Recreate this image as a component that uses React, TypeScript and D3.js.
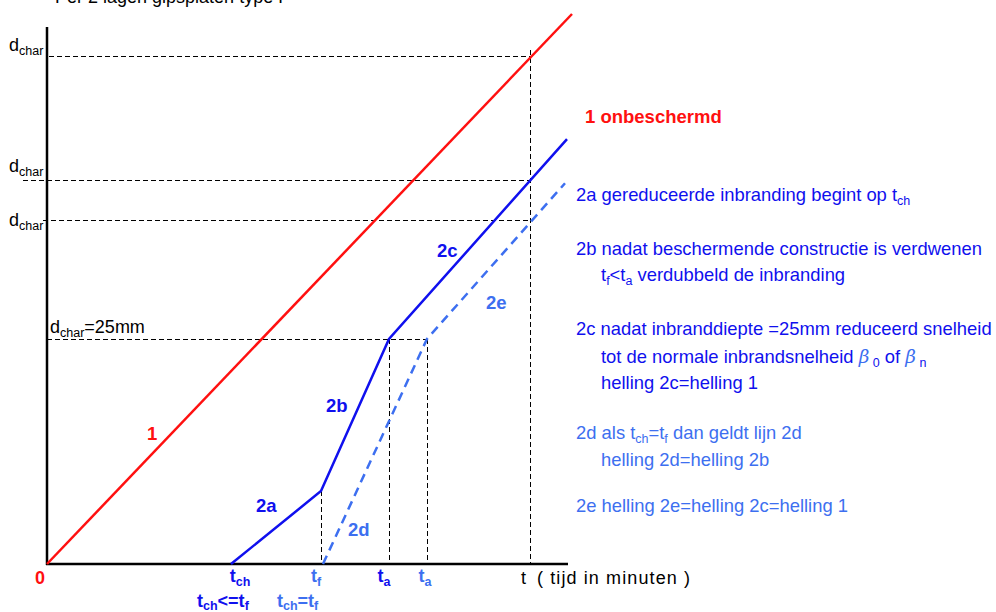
import React from "react";
import * as d3 from "d3";

// data in minutes (t) and mm (d)
const line1: [number, number][] = [[0, 0], [105, 61.1]];
const line2: [number, number][] = [[36.8, 0], [54.8, 8.1], [68.4, 25], [104, 47.2]];
const line2de: [number, number][] = [[55.2, 0], [76, 25], [103.6, 42.3]];
const tRef = 96.6;
const dLevels = [56.4, 42.7, 38.2];
const d25 = 25;
const tF = 54.8;
const dF = 8.1;
const tA = 68.4;
const tA2 = 76;

const W = 996, H = 612;
const x = d3.scaleLinear().domain([0, 105]).range([47, 572]);
const y = d3.scaleLinear().domain([0, 61.1]).range([564, 14]);

const BLUE = "#1010ee";
const LBLUE = "#3d6ff0";
const RED = "#ff1010";
const FONT = "'Liberation Sans', Arial, sans-serif";
const FS = 18;
const FR = 18.4;
const SS = 12.5;

const lineGen = d3.line<[number, number]>().x(d => x(d[0])).y(d => y(d[1]));
const px = (v: number) => Math.round(v) + 0.5;

function Sub({ x: xx, y: yy, base, sub, size = FS, fill = "#000", weight = "normal", anchor = "start", rest = "" }: any) {
  return (
    <text x={xx} y={yy} fontSize={size} fill={fill} fontWeight={weight} textAnchor={anchor} fontFamily={FONT}>
      {base}
      <tspan fontSize={SS} dy={4}>{sub}</tspan>
      {rest ? <tspan dy={-4}>{rest}</tspan> : null}
    </text>
  );
}

export default function App() {
  const dash = "5,3";
  return (
    <svg width={W} height={H} style={{ position: "absolute", left: 0, top: 0, background: "#fff" }} fontFamily={FONT}>
      {/* clipped titles */}
      <text x={55} y={3} fontSize={FS} fill="#000">Per 2 lagen gipsplaten type F</text>
      <text x={752} y={0} fontSize={FS} fill={RED} fontWeight="bold" opacity={0.5}>beschermd hout</text>

      {/* dashed reference lines */}
      <g stroke="#000" strokeWidth={1.1} strokeDasharray={dash} fill="none" shapeRendering="crispEdges">
        <line x1={49} x2={x(tRef)} y1={px(y(dLevels[0]))} y2={px(y(dLevels[0]))} />
        <line x1={23} x2={x(tRef)} y1={px(y(dLevels[1]))} y2={px(y(dLevels[1]))} />
        <line x1={43} x2={x(tRef)} y1={px(y(dLevels[2]))} y2={px(y(dLevels[2]))} />
        <line x1={47} x2={x(tA2)} y1={px(y(d25))} y2={px(y(d25))} />
        <line x1={px(x(tRef))} x2={px(x(tRef))} y1={y(dLevels[0]) - 6} y2={y(0)} />
        <line x1={px(x(tF))} x2={px(x(tF))} y1={y(dF)} y2={y(0)} />
        <line x1={px(x(tA))} x2={px(x(tA))} y1={y(d25)} y2={y(0)} />
        <line x1={px(x(tA2))} x2={px(x(tA2))} y1={y(d25)} y2={y(0)} />
      </g>

      {/* axes */}
      <line x1={47} x2={47} y1={27} y2={565} stroke="#000" strokeWidth={2.5} />
      <line x1={46} x2={568} y1={564} y2={564} stroke="#000" strokeWidth={2.5} />

      {/* series */}
      <path d={lineGen(line1) || ""} stroke={RED} strokeWidth={2.5} fill="none" />
      <path d={lineGen(line2) || ""} stroke={BLUE} strokeWidth={2.5} fill="none" />
      <path d={lineGen(line2de) || ""} stroke={LBLUE} strokeWidth={2.5} fill="none" strokeDasharray="9,6" />

      {/* y labels */}
      <Sub x={9} y={51} base="d" sub="char" />
      <Sub x={9} y={172} base="d" sub="char" />
      <Sub x={9} y={226} base="d" sub="char" />
      <Sub x={50} y={333} base="d" sub="char" rest="=25mm" />

      {/* line labels */}
      <g fontSize={18.5} fontWeight="bold">
        <text x={147} y={440} fill={RED}>1</text>
        <text x={585} y={123} fill={RED}>1 onbeschermd</text>
        <text x={256} y={512} fill={BLUE}>2a</text>
        <text x={326} y={412} fill={BLUE}>2b</text>
        <text x={437} y={257} fill={BLUE}>2c</text>
        <text x={348} y={536} fill={LBLUE}>2d</text>
        <text x={486} y={309} fill={LBLUE}>2e</text>
      </g>

      {/* x labels */}
      <text x={40} y={584} fontSize={FS} fontWeight="bold" fill={RED} textAnchor="middle">0</text>
      <Sub x={x(36.8) + 9} y={582} base="t" sub="ch" fill={BLUE} weight="bold" anchor="middle" />
      <Sub x={x(tF) - 5} y={582} base="t" sub="f" fill={LBLUE} weight="bold" anchor="middle" />
      <Sub x={x(tA) - 5} y={582} base="t" sub="a" fill={BLUE} weight="bold" anchor="middle" />
      <Sub x={x(tA2) - 2} y={582} base="t" sub="a" fill={LBLUE} weight="bold" anchor="middle" />
      <text x={521} y={584} fontSize={FS} fill="#000">t</text>
      <text x={537} y={584} fontSize={FS} fill="#000" textLength={153} lengthAdjust="spacing">( tijd in minuten )</text>
      <text x={197} y={607} fontSize={FS} fontWeight="bold" fill={BLUE}>
        t<tspan fontSize={SS} dy={3}>ch</tspan><tspan dy={-3}>&lt;=t</tspan><tspan fontSize={SS} dy={3}>f</tspan>
      </text>
      <text x={277} y={607} fontSize={FS} fontWeight="bold" fill={LBLUE}>
        t<tspan fontSize={SS} dy={3}>ch</tspan><tspan dy={-3}>=t</tspan><tspan fontSize={SS} dy={3}>f</tspan>
      </text>

      {/* explanation */}
      <g fontSize={FR} fill={BLUE}>
        <text x={576} y={201}>2a gereduceerde inbranding begint op t<tspan fontSize={SS} dy={4}>ch</tspan></text>
        <text x={576} y={255}>2b nadat beschermende constructie is verdwenen</text>
        <text x={601} y={281}>t<tspan fontSize={SS} dy={4}>f</tspan><tspan dy={-4}>&lt;t</tspan><tspan fontSize={SS} dy={4}>a</tspan><tspan dy={-4}> verdubbeld de inbranding</tspan></text>
        <text x={576} y={335}>2c nadat inbranddiepte =25mm reduceerd snelheid</text>
        <text x={601} y={363}>tot de normale inbrandsnelheid <tspan fill={LBLUE} fontStyle="italic" fontFamily="'DejaVu Serif', serif">β</tspan><tspan fontSize={SS} dy={4}> 0</tspan><tspan dy={-4}> of </tspan><tspan fill={LBLUE} fontStyle="italic" fontFamily="'DejaVu Serif', serif">β</tspan><tspan fontSize={SS} dy={4}> n</tspan></text>
        <text x={601} y={389}>helling 2c=helling 1</text>
      </g>
      <g fontSize={FR} fill={LBLUE}>
        <text x={576} y={439}>2d als t<tspan fontSize={SS} dy={4}>ch</tspan><tspan dy={-4}>=t</tspan><tspan fontSize={SS} dy={4}>f</tspan><tspan dy={-4}> dan geldt lijn 2d</tspan></text>
        <text x={601} y={466}>helling 2d=helling 2b</text>
        <text x={576} y={512}>2e helling 2e=helling 2c=helling 1</text>
      </g>
    </svg>
  );
}
